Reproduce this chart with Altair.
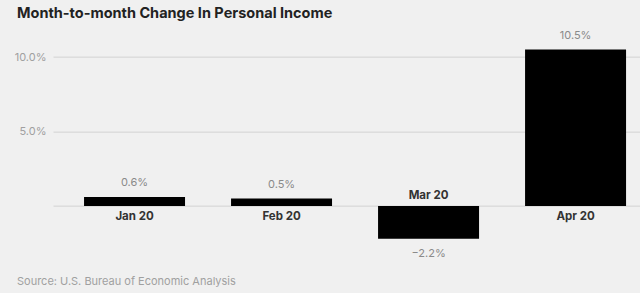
import altair as alt
import pandas as pd

months = ["Jan 20", "Feb 20", "Mar 20", "Apr 20"]
changes = [0.6, 0.5, -2.2, 10.5]
value_labels = ["0.6%", "0.5%", "\u22122.2%", "10.5%"]
title_text = "Month-to-month Change In Personal Income"
source_text = "Source: U.S. Bureau of Economic Analysis"

df = pd.DataFrame({"month": months, "change": changes, "label": value_labels})

FONT = "Inter"
PLOT_TOP = 34.65
PLOT_H = 223.5
PLOT_W = 587

xenc = alt.X("month:N", sort=months,
             scale=alt.Scale(paddingInner=0.313, paddingOuter=0.153, align=0.69),
             axis=None)
yscale = alt.Scale(domain=[-3.5, 11.5], nice=False)

base = alt.Chart(df).encode(x=xenc)

bars = base.mark_bar(color="black").encode(
    y=alt.Y("change:Q", scale=yscale,
            axis=alt.Axis(values=[0, 5, 10], grid=True, gridColor="#d2d2d2", gridWidth=1,
                          domain=False, ticks=False, labelPadding=7,
                          labelExpr="datum.value == 0 ? '' : format(datum.value, '.1f') + '%'",
                          labelColor="#a0a0a0", labelFontSize=11, labelFont=FONT, title=None))
)

val_pos = base.transform_filter("datum.change >= 0").mark_text(
    dy=-14, baseline="middle", font=FONT, fontSize=11, color="#8a8a8a"
).encode(y=alt.Y("change:Q", scale=yscale), text="label:N")

val_neg = base.transform_filter("datum.change < 0").mark_text(
    dy=15, baseline="middle", font=FONT, fontSize=11, color="#8a8a8a"
).encode(y=alt.Y("change:Q", scale=yscale), text="label:N")

cat_pos = base.transform_filter("datum.change >= 0").mark_text(
    dy=11, baseline="middle", font=FONT, fontSize=11.5, fontWeight="bold", color="#333333"
).encode(y=alt.datum(0, scale=yscale), text="month:N")

cat_neg = base.transform_filter("datum.change < 0").mark_text(
    dy=-10, baseline="middle", font=FONT, fontSize=11.5, fontWeight="bold", color="#333333"
).encode(y=alt.datum(0, scale=yscale), text="month:N")

source = alt.Chart(pd.DataFrame({"t": [source_text]})).mark_text(
    align="left", baseline="middle", font=FONT, fontSize=11, color="#a0a0a0"
).encode(x=alt.value(-36), y=alt.value(282 - PLOT_TOP), text="t:N")

chart = alt.layer(bars, val_pos, val_neg, cat_pos, cat_neg, source).properties(
    width=PLOT_W, height=PLOT_H,
    title=alt.TitleParams(title_text, anchor="start", frame="group", dx=-36, dy=-4,
                          font=FONT, fontSize=14.5, fontWeight="bold", color="#222222"),
    autosize=alt.AutoSizeParams(type="none"),
    padding={"left": 53, "top": PLOT_TOP, "right": 0, "bottom": 293 - PLOT_TOP - PLOT_H},
    background="#f0f0f0",
).configure_view(stroke=None)

chart.save("out.html", embed_options={"renderer": "svg", "actions": False})
